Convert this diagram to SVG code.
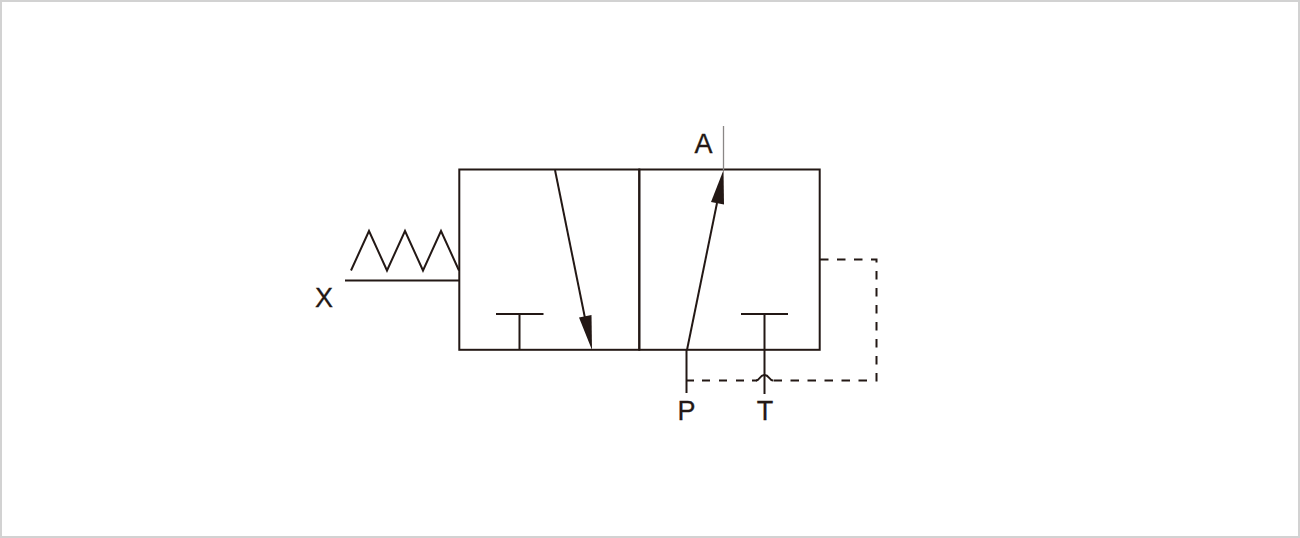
<svg xmlns="http://www.w3.org/2000/svg" width="1300" height="538" viewBox="0 0 1300 538">
<style>
.l{fill:none;stroke:#231815;stroke-width:2}
.d{fill:none;stroke:#231815;stroke-width:2;stroke-dasharray:8.500 8.500}
.h{fill:#231815;stroke:none}
.t{font-family:"Liberation Sans",Arial,sans-serif;font-size:27px;fill:#231815;text-anchor:middle;stroke:#231815;stroke-width:.3}
</style>
<rect id="frame" x="1" y="1" width="1298" height="536" fill="#fff" stroke="#d2d2d2" stroke-width="2"/>
<g id="valve-left">
<rect class="l" x="459.300" y="169.500" width="180" height="180.300"/>
<path class="l" d="M496 314H543.500M519.500 314V349.500"/>
<path class="l" d="M555 170L586 323"/>
<polygon class="h" points="592,350 579,317.500 591.500,315"/>
</g>
<g id="valve-right">
<rect class="l" x="639.300" y="169.500" width="180.400" height="180.300"/>
<path class="l" d="M741 314H788M764.500 314V349.500"/>
<path class="l" d="M687 350L717 203"/>
<polygon class="h" points="723.500,170 711,202 724,204.500"/>
</g>
<g id="spring">
<path class="l" d="M351 270.500L369 231L387 270.500L405 231L423 270.500L441 231L459 270.500"/>
</g>
<g id="connectors">
<path class="l" d="M345 280.500H459.500"/>
<path d="M723.500 126V170" fill="none" stroke="#8a8786" stroke-width="1.300"/>
<path class="l" d="M686.500 350V393"/>
<path class="l" d="M764.500 350V394"/>
<path class="l" d="M756 380.500C760 380.500 759.500 375 764.500 375C769.500 375 769 380.500 773 380.500"/>
<path class="d" d="M820 259.500H876.500V380.500H773"/>
<path class="l" d="M687 380.500H694"/>
<path class="l" d="M702 380.500H710M719 380.500H727M736 380.500H744M752 380.500H757"/>
</g>
<g id="labels">
<text class="t" x="324" y="307">X</text>
<text class="t" x="703.500" y="153">A</text>
<text class="t" x="686.500" y="420">P</text>
<text class="t" x="765" y="420">T</text>
</g>
</svg>
